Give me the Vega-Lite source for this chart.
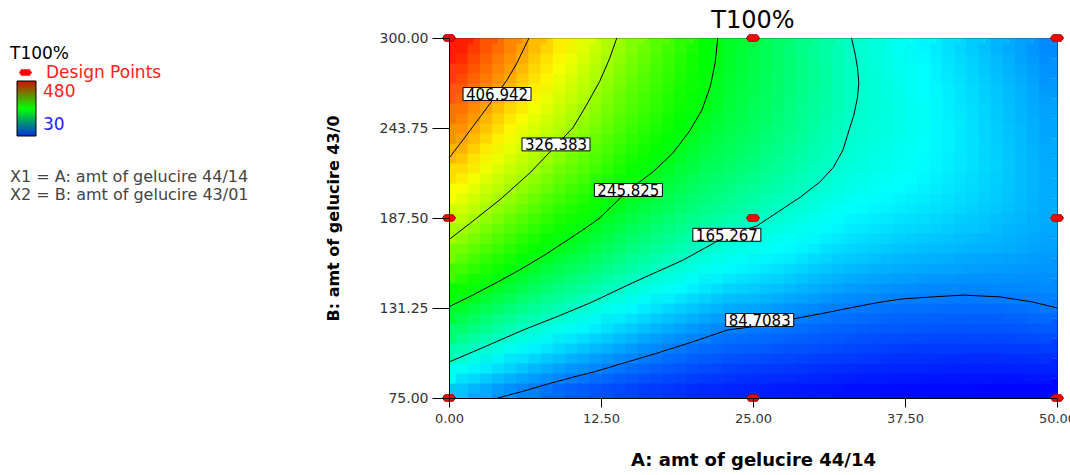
{
"$schema":"https://vega.github.io/schema/vega-lite/v6.json",
"width":608,"height":360,
"autosize":"none",
"padding":{"left":449,"top":38,"right":13,"bottom":77},
"background":"white",
"title":{"text":"T100%","fontSize":24,"fontWeight":"normal","font":"DejaVu Sans","color":"#000","frame":"group","baseline":"alphabetic","offset":7,"dy":28},
"config":{"font":"DejaVu Sans","view":{"stroke":"#222","strokeWidth":1}},
"datasets":{
"grid":[
{"a":1,"b":81.25,"t":117},{"a":1,"b":93.75,"t":148},{"a":1,"b":106.25,"t":178},{"a":1,"b":118.75,"t":207},{"a":1,"b":131.25,"t":236},{"a":1,"b":143.75,"t":260},{"a":1,"b":156.25,"t":283},{"a":1,"b":168.75,"t":306},{"a":1,"b":181.25,"t":328},{"a":1,"b":193.75,"t":347},{"a":1,"b":206.25,"t":365},{"a":1,"b":218.75,"t":383},{"a":1,"b":231.25,"t":401},{"a":1,"b":243.75,"t":416},{"a":1,"b":256.25,"t":429},{"a":1,"b":268.75,"t":441},{"a":1,"b":281.25,"t":454},{"a":1,"b":293.75,"t":467},
{"a":3,"b":81.25,"t":105},{"a":3,"b":93.75,"t":134},{"a":3,"b":106.25,"t":163},{"a":3,"b":118.75,"t":191},{"a":3,"b":131.25,"t":219},{"a":3,"b":143.75,"t":246},{"a":3,"b":156.25,"t":267},{"a":3,"b":168.75,"t":288},{"a":3,"b":181.25,"t":309},{"a":3,"b":193.75,"t":329},{"a":3,"b":206.25,"t":345},{"a":3,"b":218.75,"t":361},{"a":3,"b":231.25,"t":377},{"a":3,"b":243.75,"t":393},{"a":3,"b":256.25,"t":408},{"a":3,"b":268.75,"t":420},{"a":3,"b":281.25,"t":432},{"a":3,"b":293.75,"t":443},
{"a":5,"b":81.25,"t":94},{"a":5,"b":93.75,"t":122},{"a":5,"b":106.25,"t":149},{"a":5,"b":118.75,"t":176},{"a":5,"b":131.25,"t":203},{"a":5,"b":143.75,"t":229},{"a":5,"b":156.25,"t":253},{"a":5,"b":168.75,"t":272},{"a":5,"b":181.25,"t":291},{"a":5,"b":193.75,"t":311},{"a":5,"b":206.25,"t":329},{"a":5,"b":218.75,"t":343},{"a":5,"b":231.25,"t":357},{"a":5,"b":243.75,"t":371},{"a":5,"b":256.25,"t":384},{"a":5,"b":268.75,"t":398},{"a":5,"b":281.25,"t":411},{"a":5,"b":293.75,"t":421},
{"a":7,"b":81.25,"t":85},{"a":7,"b":93.75,"t":111},{"a":7,"b":106.25,"t":137},{"a":7,"b":118.75,"t":163},{"a":7,"b":131.25,"t":188},{"a":7,"b":143.75,"t":213},{"a":7,"b":156.25,"t":237},{"a":7,"b":168.75,"t":257},{"a":7,"b":181.25,"t":275},{"a":7,"b":193.75,"t":292},{"a":7,"b":206.25,"t":310},{"a":7,"b":218.75,"t":327},{"a":7,"b":231.25,"t":339},{"a":7,"b":243.75,"t":350},{"a":7,"b":256.25,"t":362},{"a":7,"b":268.75,"t":374},{"a":7,"b":281.25,"t":385},{"a":7,"b":293.75,"t":397},
{"a":9,"b":81.25,"t":76},{"a":9,"b":93.75,"t":101},{"a":9,"b":106.25,"t":126},{"a":9,"b":118.75,"t":151},{"a":9,"b":131.25,"t":175},{"a":9,"b":143.75,"t":198},{"a":9,"b":156.25,"t":221},{"a":9,"b":168.75,"t":244},{"a":9,"b":181.25,"t":260},{"a":9,"b":193.75,"t":275},{"a":9,"b":206.25,"t":291},{"a":9,"b":218.75,"t":306},{"a":9,"b":231.25,"t":322},{"a":9,"b":243.75,"t":334},{"a":9,"b":256.25,"t":344},{"a":9,"b":268.75,"t":354},{"a":9,"b":281.25,"t":365},{"a":9,"b":293.75,"t":375},
{"a":11,"b":81.25,"t":70},{"a":11,"b":93.75,"t":93},{"a":11,"b":106.25,"t":116},{"a":11,"b":118.75,"t":139},{"a":11,"b":131.25,"t":163},{"a":11,"b":143.75,"t":186},{"a":11,"b":156.25,"t":209},{"a":11,"b":168.75,"t":229},{"a":11,"b":181.25,"t":247},{"a":11,"b":193.75,"t":263},{"a":11,"b":206.25,"t":277},{"a":11,"b":218.75,"t":292},{"a":11,"b":231.25,"t":304},{"a":11,"b":243.75,"t":317},{"a":11,"b":256.25,"t":328},{"a":11,"b":268.75,"t":337},{"a":11,"b":281.25,"t":345},{"a":11,"b":293.75,"t":354},
{"a":13,"b":81.25,"t":65},{"a":13,"b":93.75,"t":85},{"a":13,"b":106.25,"t":107},{"a":13,"b":118.75,"t":129},{"a":13,"b":131.25,"t":151},{"a":13,"b":143.75,"t":173},{"a":13,"b":156.25,"t":195},{"a":13,"b":168.75,"t":214},{"a":13,"b":181.25,"t":232},{"a":13,"b":193.75,"t":248},{"a":13,"b":206.25,"t":260},{"a":13,"b":218.75,"t":274},{"a":13,"b":231.25,"t":286},{"a":13,"b":243.75,"t":297},{"a":13,"b":256.25,"t":307},{"a":13,"b":268.75,"t":316},{"a":13,"b":281.25,"t":324},{"a":13,"b":293.75,"t":332},
{"a":15,"b":81.25,"t":60},{"a":15,"b":93.75,"t":78},{"a":15,"b":106.25,"t":98},{"a":15,"b":118.75,"t":119},{"a":15,"b":131.25,"t":140},{"a":15,"b":143.75,"t":161},{"a":15,"b":156.25,"t":182},{"a":15,"b":168.75,"t":200},{"a":15,"b":181.25,"t":217},{"a":15,"b":193.75,"t":233},{"a":15,"b":206.25,"t":246},{"a":15,"b":218.75,"t":259},{"a":15,"b":231.25,"t":270},{"a":15,"b":243.75,"t":280},{"a":15,"b":256.25,"t":289},{"a":15,"b":268.75,"t":296},{"a":15,"b":281.25,"t":304},{"a":15,"b":293.75,"t":311},
{"a":17,"b":81.25,"t":55},{"a":17,"b":93.75,"t":72},{"a":17,"b":106.25,"t":90},{"a":17,"b":118.75,"t":110},{"a":17,"b":131.25,"t":130},{"a":17,"b":143.75,"t":151},{"a":17,"b":156.25,"t":170},{"a":17,"b":168.75,"t":188},{"a":17,"b":181.25,"t":205},{"a":17,"b":193.75,"t":220},{"a":17,"b":206.25,"t":233},{"a":17,"b":218.75,"t":247},{"a":17,"b":231.25,"t":257},{"a":17,"b":243.75,"t":265},{"a":17,"b":256.25,"t":274},{"a":17,"b":268.75,"t":280},{"a":17,"b":281.25,"t":286},{"a":17,"b":293.75,"t":293},
{"a":19,"b":81.25,"t":52},{"a":19,"b":93.75,"t":68},{"a":19,"b":106.25,"t":83},{"a":19,"b":118.75,"t":102},{"a":19,"b":131.25,"t":121},{"a":19,"b":143.75,"t":141},{"a":19,"b":156.25,"t":160},{"a":19,"b":168.75,"t":177},{"a":19,"b":181.25,"t":193},{"a":19,"b":193.75,"t":208},{"a":19,"b":206.25,"t":220},{"a":19,"b":218.75,"t":232},{"a":19,"b":231.25,"t":243},{"a":19,"b":243.75,"t":252},{"a":19,"b":256.25,"t":259},{"a":19,"b":268.75,"t":264},{"a":19,"b":281.25,"t":269},{"a":19,"b":293.75,"t":274},
{"a":21,"b":81.25,"t":48},{"a":21,"b":93.75,"t":63},{"a":21,"b":106.25,"t":77},{"a":21,"b":118.75,"t":94},{"a":21,"b":131.25,"t":113},{"a":21,"b":143.75,"t":132},{"a":21,"b":156.25,"t":150},{"a":21,"b":168.75,"t":166},{"a":21,"b":181.25,"t":182},{"a":21,"b":193.75,"t":196},{"a":21,"b":206.25,"t":207},{"a":21,"b":218.75,"t":218},{"a":21,"b":231.25,"t":228},{"a":21,"b":243.75,"t":237},{"a":21,"b":256.25,"t":246},{"a":21,"b":268.75,"t":250},{"a":21,"b":281.25,"t":253},{"a":21,"b":293.75,"t":255},
{"a":23,"b":81.25,"t":46},{"a":23,"b":93.75,"t":59},{"a":23,"b":106.25,"t":73},{"a":23,"b":118.75,"t":87},{"a":23,"b":131.25,"t":106},{"a":23,"b":143.75,"t":124},{"a":23,"b":156.25,"t":141},{"a":23,"b":168.75,"t":156},{"a":23,"b":181.25,"t":172},{"a":23,"b":193.75,"t":187},{"a":23,"b":206.25,"t":198},{"a":23,"b":218.75,"t":209},{"a":23,"b":231.25,"t":217},{"a":23,"b":243.75,"t":224},{"a":23,"b":256.25,"t":230},{"a":23,"b":268.75,"t":234},{"a":23,"b":281.25,"t":237},{"a":23,"b":293.75,"t":239},
{"a":25,"b":81.25,"t":44},{"a":25,"b":93.75,"t":57},{"a":25,"b":106.25,"t":71},{"a":25,"b":118.75,"t":84},{"a":25,"b":131.25,"t":103},{"a":25,"b":143.75,"t":120},{"a":25,"b":156.25,"t":136},{"a":25,"b":168.75,"t":151},{"a":25,"b":181.25,"t":164},{"a":25,"b":193.75,"t":178},{"a":25,"b":206.25,"t":189},{"a":25,"b":218.75,"t":199},{"a":25,"b":231.25,"t":207},{"a":25,"b":243.75,"t":213},{"a":25,"b":256.25,"t":218},{"a":25,"b":268.75,"t":221},{"a":25,"b":281.25,"t":224},{"a":25,"b":293.75,"t":225},
{"a":27,"b":81.25,"t":42},{"a":27,"b":93.75,"t":55},{"a":27,"b":106.25,"t":68},{"a":27,"b":118.75,"t":82},{"a":27,"b":131.25,"t":98},{"a":27,"b":143.75,"t":115},{"a":27,"b":156.25,"t":130},{"a":27,"b":168.75,"t":144},{"a":27,"b":181.25,"t":156},{"a":27,"b":193.75,"t":168},{"a":27,"b":206.25,"t":179},{"a":27,"b":218.75,"t":188},{"a":27,"b":231.25,"t":195},{"a":27,"b":243.75,"t":201},{"a":27,"b":256.25,"t":206},{"a":27,"b":268.75,"t":208},{"a":27,"b":281.25,"t":210},{"a":27,"b":293.75,"t":210},
{"a":29,"b":81.25,"t":40},{"a":29,"b":93.75,"t":53},{"a":29,"b":106.25,"t":66},{"a":29,"b":118.75,"t":78},{"a":29,"b":131.25,"t":93},{"a":29,"b":143.75,"t":109},{"a":29,"b":156.25,"t":124},{"a":29,"b":168.75,"t":138},{"a":29,"b":181.25,"t":150},{"a":29,"b":193.75,"t":160},{"a":29,"b":206.25,"t":170},{"a":29,"b":218.75,"t":178},{"a":29,"b":231.25,"t":184},{"a":29,"b":243.75,"t":190},{"a":29,"b":256.25,"t":193},{"a":29,"b":268.75,"t":196},{"a":29,"b":281.25,"t":197},{"a":29,"b":293.75,"t":196},
{"a":31,"b":81.25,"t":39},{"a":31,"b":93.75,"t":51},{"a":31,"b":106.25,"t":63},{"a":31,"b":118.75,"t":75},{"a":31,"b":131.25,"t":87},{"a":31,"b":143.75,"t":104},{"a":31,"b":156.25,"t":117},{"a":31,"b":168.75,"t":130},{"a":31,"b":181.25,"t":141},{"a":31,"b":193.75,"t":151},{"a":31,"b":206.25,"t":160},{"a":31,"b":218.75,"t":167},{"a":31,"b":231.25,"t":173},{"a":31,"b":243.75,"t":177},{"a":31,"b":256.25,"t":181},{"a":31,"b":268.75,"t":183},{"a":31,"b":281.25,"t":183},{"a":31,"b":293.75,"t":182},
{"a":33,"b":81.25,"t":37},{"a":33,"b":93.75,"t":49},{"a":33,"b":106.25,"t":61},{"a":33,"b":118.75,"t":73},{"a":33,"b":131.25,"t":84},{"a":33,"b":143.75,"t":99},{"a":33,"b":156.25,"t":113},{"a":33,"b":168.75,"t":125},{"a":33,"b":181.25,"t":135},{"a":33,"b":193.75,"t":144},{"a":33,"b":206.25,"t":152},{"a":33,"b":218.75,"t":158},{"a":33,"b":231.25,"t":162},{"a":33,"b":243.75,"t":166},{"a":33,"b":256.25,"t":168},{"a":33,"b":268.75,"t":168},{"a":33,"b":281.25,"t":168},{"a":33,"b":293.75,"t":167},
{"a":35,"b":81.25,"t":36},{"a":35,"b":93.75,"t":47},{"a":35,"b":106.25,"t":59},{"a":35,"b":118.75,"t":70},{"a":35,"b":131.25,"t":82},{"a":35,"b":143.75,"t":96},{"a":35,"b":156.25,"t":109},{"a":35,"b":168.75,"t":121},{"a":35,"b":181.25,"t":131},{"a":35,"b":193.75,"t":139},{"a":35,"b":206.25,"t":147},{"a":35,"b":218.75,"t":152},{"a":35,"b":231.25,"t":156},{"a":35,"b":243.75,"t":159},{"a":35,"b":256.25,"t":160},{"a":35,"b":268.75,"t":160},{"a":35,"b":281.25,"t":159},{"a":35,"b":293.75,"t":158},
{"a":37,"b":81.25,"t":35},{"a":37,"b":93.75,"t":46},{"a":37,"b":106.25,"t":57},{"a":37,"b":118.75,"t":69},{"a":37,"b":131.25,"t":80},{"a":37,"b":143.75,"t":93},{"a":37,"b":156.25,"t":106},{"a":37,"b":168.75,"t":117},{"a":37,"b":181.25,"t":127},{"a":37,"b":193.75,"t":135},{"a":37,"b":206.25,"t":142},{"a":37,"b":218.75,"t":147},{"a":37,"b":231.25,"t":150},{"a":37,"b":243.75,"t":152},{"a":37,"b":256.25,"t":153},{"a":37,"b":268.75,"t":152},{"a":37,"b":281.25,"t":150},{"a":37,"b":293.75,"t":148},
{"a":39,"b":81.25,"t":34},{"a":39,"b":93.75,"t":45},{"a":39,"b":106.25,"t":56},{"a":39,"b":118.75,"t":68},{"a":39,"b":131.25,"t":79},{"a":39,"b":143.75,"t":91},{"a":39,"b":156.25,"t":104},{"a":39,"b":168.75,"t":114},{"a":39,"b":181.25,"t":124},{"a":39,"b":193.75,"t":131},{"a":39,"b":206.25,"t":137},{"a":39,"b":218.75,"t":141},{"a":39,"b":231.25,"t":144},{"a":39,"b":243.75,"t":145},{"a":39,"b":256.25,"t":145},{"a":39,"b":268.75,"t":143},{"a":39,"b":281.25,"t":142},{"a":39,"b":293.75,"t":139},
{"a":41,"b":81.25,"t":33},{"a":41,"b":93.75,"t":44},{"a":41,"b":106.25,"t":56},{"a":41,"b":118.75,"t":67},{"a":41,"b":131.25,"t":78},{"a":41,"b":143.75,"t":90},{"a":41,"b":156.25,"t":102},{"a":41,"b":168.75,"t":112},{"a":41,"b":181.25,"t":120},{"a":41,"b":193.75,"t":127},{"a":41,"b":206.25,"t":132},{"a":41,"b":218.75,"t":135},{"a":41,"b":231.25,"t":137},{"a":41,"b":243.75,"t":137},{"a":41,"b":256.25,"t":136},{"a":41,"b":268.75,"t":135},{"a":41,"b":281.25,"t":132},{"a":41,"b":293.75,"t":129},
{"a":43,"b":81.25,"t":33},{"a":43,"b":93.75,"t":44},{"a":43,"b":106.25,"t":55},{"a":43,"b":118.75,"t":66},{"a":43,"b":131.25,"t":78},{"a":43,"b":143.75,"t":89},{"a":43,"b":156.25,"t":100},{"a":43,"b":168.75,"t":109},{"a":43,"b":181.25,"t":117},{"a":43,"b":193.75,"t":122},{"a":43,"b":206.25,"t":126},{"a":43,"b":218.75,"t":129},{"a":43,"b":231.25,"t":129},{"a":43,"b":243.75,"t":129},{"a":43,"b":256.25,"t":128},{"a":43,"b":268.75,"t":126},{"a":43,"b":281.25,"t":123},{"a":43,"b":293.75,"t":120},
{"a":45,"b":81.25,"t":32},{"a":45,"b":93.75,"t":44},{"a":45,"b":106.25,"t":55},{"a":45,"b":118.75,"t":67},{"a":45,"b":131.25,"t":78},{"a":45,"b":143.75,"t":90},{"a":45,"b":156.25,"t":99},{"a":45,"b":168.75,"t":107},{"a":45,"b":181.25,"t":113},{"a":45,"b":193.75,"t":118},{"a":45,"b":206.25,"t":120},{"a":45,"b":218.75,"t":122},{"a":45,"b":231.25,"t":121},{"a":45,"b":243.75,"t":120},{"a":45,"b":256.25,"t":119},{"a":45,"b":268.75,"t":117},{"a":45,"b":281.25,"t":114},{"a":45,"b":293.75,"t":110},
{"a":47,"b":81.25,"t":32},{"a":47,"b":93.75,"t":44},{"a":47,"b":106.25,"t":56},{"a":47,"b":118.75,"t":68},{"a":47,"b":131.25,"t":80},{"a":47,"b":143.75,"t":90},{"a":47,"b":156.25,"t":98},{"a":47,"b":168.75,"t":104},{"a":47,"b":181.25,"t":109},{"a":47,"b":193.75,"t":112},{"a":47,"b":206.25,"t":114},{"a":47,"b":218.75,"t":114},{"a":47,"b":231.25,"t":113},{"a":47,"b":243.75,"t":112},{"a":47,"b":256.25,"t":110},{"a":47,"b":268.75,"t":108},{"a":47,"b":281.25,"t":104},{"a":47,"b":293.75,"t":101},
{"a":49,"b":81.25,"t":32},{"a":49,"b":93.75,"t":45},{"a":49,"b":106.25,"t":57},{"a":49,"b":118.75,"t":70},{"a":49,"b":131.25,"t":83},{"a":49,"b":143.75,"t":91},{"a":49,"b":156.25,"t":96},{"a":49,"b":168.75,"t":101},{"a":49,"b":181.25,"t":104},{"a":49,"b":193.75,"t":106},{"a":49,"b":206.25,"t":106},{"a":49,"b":218.75,"t":106},{"a":49,"b":231.25,"t":105},{"a":49,"b":243.75,"t":103},{"a":49,"b":256.25,"t":101},{"a":49,"b":268.75,"t":98},{"a":49,"b":281.25,"t":95},{"a":49,"b":293.75,"t":91}
],
"contours":[
{"lvl":"84.7083","i":0,"a":4,"b":75},{"lvl":"84.7083","i":1,"a":6,"b":79},{"lvl":"84.7083","i":2,"a":8,"b":83.5},{"lvl":"84.7083","i":3,"a":10.2,"b":88},{"lvl":"84.7083","i":4,"a":12,"b":91.5},{"lvl":"84.7083","i":5,"a":14,"b":96},{"lvl":"84.7083","i":6,"a":17.1,"b":103},{"lvl":"84.7083","i":7,"a":20,"b":110},{"lvl":"84.7083","i":8,"a":22.9,"b":117.5},{"lvl":"84.7083","i":9,"a":25.4,"b":120},{"lvl":"84.7083","i":10,"a":28.3,"b":124.4},{"lvl":"84.7083","i":11,"a":31,"b":128.3},{"lvl":"84.7083","i":12,"a":33,"b":131.3},{"lvl":"84.7083","i":13,"a":35,"b":134.3},{"lvl":"84.7083","i":14,"a":37.1,"b":136.8},{"lvl":"84.7083","i":15,"a":39.8,"b":138.2},{"lvl":"84.7083","i":16,"a":42.3,"b":139.3},{"lvl":"84.7083","i":17,"a":45.3,"b":138.2},{"lvl":"84.7083","i":18,"a":48,"b":135},{"lvl":"84.7083","i":19,"a":50,"b":131.3},
{"lvl":"165.267","i":0,"a":0,"b":97.5},{"lvl":"165.267","i":1,"a":3,"b":107.2},{"lvl":"165.267","i":2,"a":6.1,"b":117.5},{"lvl":"165.267","i":3,"a":9,"b":126.2},{"lvl":"165.267","i":4,"a":11.6,"b":134.4},{"lvl":"165.267","i":5,"a":15.1,"b":147},{"lvl":"165.267","i":6,"a":19.2,"b":161},{"lvl":"165.267","i":7,"a":22.9,"b":176.5},{"lvl":"165.267","i":8,"a":25.3,"b":182.5},{"lvl":"165.267","i":9,"a":27,"b":191},{"lvl":"165.267","i":10,"a":28.9,"b":200.6},{"lvl":"165.267","i":11,"a":30.5,"b":210},{"lvl":"165.267","i":12,"a":31.6,"b":219},{"lvl":"165.267","i":13,"a":32.4,"b":230},{"lvl":"165.267","i":14,"a":32.9,"b":242.5},{"lvl":"165.267","i":15,"a":33.3,"b":252},{"lvl":"165.267","i":16,"a":33.6,"b":263},{"lvl":"165.267","i":17,"a":33.7,"b":272},{"lvl":"165.267","i":18,"a":33.6,"b":281},{"lvl":"165.267","i":19,"a":33.4,"b":290},{"lvl":"165.267","i":20,"a":33.1,"b":300},
{"lvl":"245.825","i":0,"a":0,"b":132},{"lvl":"245.825","i":1,"a":2,"b":139.5},{"lvl":"245.825","i":2,"a":4,"b":147.5},{"lvl":"245.825","i":3,"a":5.8,"b":155},{"lvl":"245.825","i":4,"a":8,"b":165},{"lvl":"245.825","i":5,"a":11,"b":180},{"lvl":"245.825","i":6,"a":12.4,"b":187.5},{"lvl":"245.825","i":7,"a":14.7,"b":204.5},{"lvl":"245.825","i":8,"a":16.8,"b":216.5},{"lvl":"245.825","i":9,"a":18.4,"b":228},{"lvl":"245.825","i":10,"a":19.8,"b":242},{"lvl":"245.825","i":11,"a":20.8,"b":255},{"lvl":"245.825","i":12,"a":21.5,"b":270},{"lvl":"245.825","i":13,"a":21.9,"b":285},{"lvl":"245.825","i":14,"a":22.1,"b":300},
{"lvl":"326.383","i":0,"a":0,"b":174},{"lvl":"326.383","i":1,"a":1.7,"b":184},{"lvl":"326.383","i":2,"a":4.2,"b":199},{"lvl":"326.383","i":3,"a":6.7,"b":216},{"lvl":"326.383","i":4,"a":8.7,"b":232},{"lvl":"326.383","i":5,"a":10.2,"b":244},{"lvl":"326.383","i":6,"a":11.3,"b":258},{"lvl":"326.383","i":7,"a":12.4,"b":273},{"lvl":"326.383","i":8,"a":13.2,"b":287},{"lvl":"326.383","i":9,"a":13.8,"b":300},
{"lvl":"406.942","i":0,"a":0,"b":225},{"lvl":"406.942","i":1,"a":1.15,"b":236.3},{"lvl":"406.942","i":2,"a":2.55,"b":250.6},{"lvl":"406.942","i":3,"a":3.95,"b":265},{"lvl":"406.942","i":4,"a":4.77,"b":273.8},{"lvl":"406.942","i":5,"a":5.59,"b":284.4},{"lvl":"406.942","i":6,"a":6.58,"b":300}
],
"labels":[
{"txt":"406.942","a":3.95,"b":265},
{"txt":"326.383","a":8.8,"b":233.5},
{"txt":"245.825","a":14.75,"b":205},
{"txt":"165.267","a":22.85,"b":177},
{"txt":"84.7083","a":25.55,"b":123.75}
],
"design":[
{"kind":"Design Points","a":0,"b":75},{"kind":"Design Points","a":25,"b":75},{"kind":"Design Points","a":50,"b":75},
{"kind":"Design Points","a":0,"b":187.5},{"kind":"Design Points","a":25,"b":187.5},{"kind":"Design Points","a":50,"b":187.5},
{"kind":"Design Points","a":0,"b":300},{"kind":"Design Points","a":25,"b":300},{"kind":"Design Points","a":50,"b":300}
]
},
"layer":[
{"data":{"name":"grid"},
 "mark":{"type":"rect"},
 "encoding":{
  "x":{"field":"a","type":"quantitative","bin":{"step":2,"extent":[0,50],"nice":false},
       "scale":{"domain":[0,50],"nice":false,"zero":false},
       "axis":{"values":[0,12.5,25,37.5,50],"format":".2f","title":"A: amt of gelucire 44/14","titleFontSize":18,"titleFontWeight":"bold","titleColor":"#000","titlePadding":26,"labelFontSize":13,"labelColor":"#333","labelPadding":5,"tickSize":9,"tickColor":"#000","domainColor":"#000","grid":false,"labelFlush":false,"labelOverlap":false}},
  "y":{"field":"b","type":"quantitative","bin":{"step":12.5,"extent":[75,300],"nice":false},
       "scale":{"domain":[75,300],"nice":false,"zero":false},
       "axis":{"values":[75,131.25,187.5,243.75,300],"format":".2f","title":"B: amt of gelucire 43/0","titleFontSize":16,"titleFontWeight":"bold","titleColor":"#000","titlePadding":38,"labelFontSize":14,"labelColor":"#333","labelPadding":4,"tickSize":17,"tickColor":"#000","domainColor":"#000","grid":false,"labelFlush":false,"labelOverlap":false}},
  "color":{"field":"t","type":"quantitative",
       "scale":{"domain":[30,142.5,255,367.5,480],"range":["#0000ff","#00ffff","#00ff00","#ffff00","#ff0000"],"interpolate":"rgb","clamp":true},
       "legend":{"type":"gradient","orient":"none","legendX":-439,"legendY":43,"direction":"vertical","gradientLength":55,"gradientThickness":19,"gradientStrokeColor":"#000","gradientStrokeWidth":1,"values":[30,480],"labelFontSize":17,"labelOffset":14,
         "title":["X1 = A: amt of gelucire 44/14","X2 = B: amt of gelucire 43/01"],"titleOrient":"bottom","titleAnchor":"start","titleFontSize":16,"titleFontWeight":"normal","titleColor":"#444","titleLineHeight":18,"titlePadding":32,"titleLimit":400,
         "encode":{"gradient":{"update":{"x":{"value":7},"fill":{"value":{"gradient":"linear","x1":0,"y1":1,"x2":0,"y2":0,"stops":[{"offset":0,"color":"#0030e0"},{"offset":0.5,"color":"#00ff00"},{"offset":1,"color":"#d01000"}]}}}},"labels":{"update":{"fill":{"signal":"datum.value > 100 ? '#ff2020' : '#2020ff'"},"dy":{"signal":"datum.value > 100 ? 3 : -2"}}}}}}
 }},
{"data":{"name":"grid"},
 "mark":{"type":"rect","clip":true},
 "encoding":{
  "x":{"field":"a","type":"quantitative","bin":{"step":2,"extent":[-0.5,51.5],"nice":false},
       "axis":{"values":[0,12.5,25,37.5,50],"format":".2f","title":"A: amt of gelucire 44/14","titleFontSize":18,"titleFontWeight":"bold","titleColor":"#000","titlePadding":26,"labelFontSize":13,"labelColor":"#333","labelPadding":5,"tickSize":9,"tickColor":"#000","domainColor":"#000","grid":false,"labelFlush":false,"labelOverlap":false}},
  "y":{"field":"b","type":"quantitative","bin":{"step":12.5,"extent":[71.875,309.375],"nice":false},
       "axis":{"values":[75,131.25,187.5,243.75,300],"format":".2f","title":"B: amt of gelucire 43/0","titleFontSize":16,"titleFontWeight":"bold","titleColor":"#000","titlePadding":38,"labelFontSize":14,"labelColor":"#333","labelPadding":4,"tickSize":17,"tickColor":"#000","domainColor":"#000","grid":false,"labelFlush":false,"labelOverlap":false}},
  "color":{"field":"t","type":"quantitative"}
 }},
{"data":{"name":"grid"},
 "mark":{"type":"rect","fillOpacity":0.5,"clip":true},
 "encoding":{
  "x":{"field":"a","type":"quantitative","bin":{"step":2,"extent":[0.5,52.5],"nice":false},
       "axis":{"values":[0,12.5,25,37.5,50],"format":".2f","title":"A: amt of gelucire 44/14","titleFontSize":18,"titleFontWeight":"bold","titleColor":"#000","titlePadding":26,"labelFontSize":13,"labelColor":"#333","labelPadding":5,"tickSize":9,"tickColor":"#000","domainColor":"#000","grid":false,"labelFlush":false,"labelOverlap":false}},
  "y":{"field":"b","type":"quantitative","bin":{"step":12.5,"extent":[78.125,315.625],"nice":false},
       "axis":{"values":[75,131.25,187.5,243.75,300],"format":".2f","title":"B: amt of gelucire 43/0","titleFontSize":16,"titleFontWeight":"bold","titleColor":"#000","titlePadding":38,"labelFontSize":14,"labelColor":"#333","labelPadding":4,"tickSize":17,"tickColor":"#000","domainColor":"#000","grid":false,"labelFlush":false,"labelOverlap":false}},
  "color":{"field":"t","type":"quantitative"}
 }},
{"data":{"name":"contours"},
 "mark":{"type":"line","color":"#000","strokeWidth":1},
 "encoding":{
  "x":{"field":"a","type":"quantitative"},
  "y":{"field":"b","type":"quantitative"},
  "detail":{"field":"lvl"},
  "order":{"field":"i","type":"quantitative"}
 }},
{"data":{"name":"labels"},
 "mark":{"type":"point","shape":"M-1,-0.19H1V0.19H-1Z","size":4624,"filled":true,"fill":"#fff","stroke":"#000","strokeWidth":1,"opacity":1},
 "encoding":{
  "x":{"field":"a","type":"quantitative"},
  "y":{"field":"b","type":"quantitative"}
 }},
{"data":{"name":"labels"},
 "mark":{"type":"text","font":"DejaVu Sans","fontSize":15,"color":"#000","align":"center","baseline":"middle","dy":1},
 "encoding":{
  "x":{"field":"a","type":"quantitative"},
  "y":{"field":"b","type":"quantitative"},
  "text":{"field":"txt"}
 }},
{"data":{"name":"design"},
 "mark":{"type":"point","filled":true,"fill":"#ff0000","stroke":"#a00000","strokeWidth":1,"size":169,"opacity":1},
 "encoding":{
  "x":{"field":"a","type":"quantitative"},
  "y":{"field":"b","type":"quantitative"},
  "shape":{"field":"kind","type":"nominal","scale":{"range":["M-1,0L-0.65,-0.5H0.65L1,0L0.65,0.5H-0.65Z"]},
    "legend":{"orient":"none","legendX":-439,"legendY":8,"title":"T100%","titleFontSize":17,"titleFontWeight":"normal","titleColor":"#000","titlePadding":1,"labelFontSize":17,"labelColor":"#ff2020","symbolFillColor":"#ff0000","symbolStrokeColor":"#a00000","symbolStrokeWidth":1,"symbolSize":169,"symbolOffset":7,"labelOffset":12}}
 }}
]
}
